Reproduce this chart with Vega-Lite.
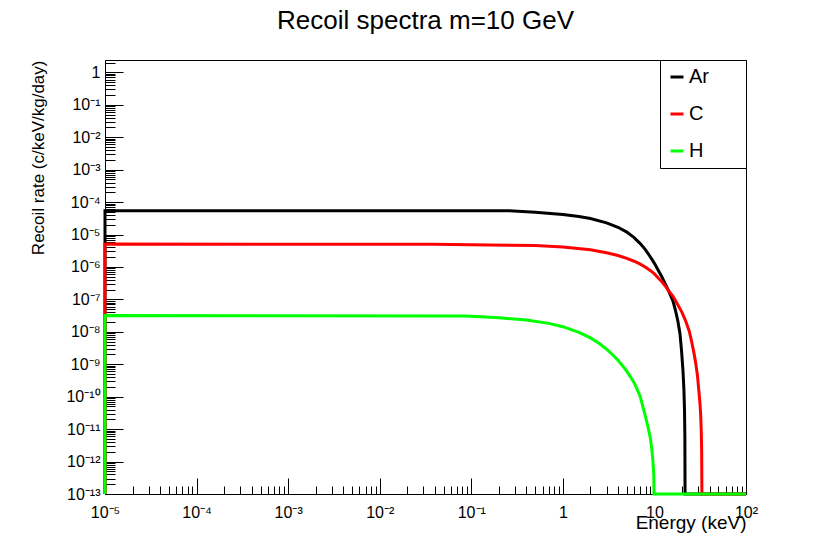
{
  "$schema": "https://vega.github.io/schema/vega-lite/v6.json",
  "width": 641,
  "height": 434,
  "autosize": "none",
  "padding": {"left": 105, "top": 60, "right": 94, "bottom": 50},
  "background": "white",
  "title": {
    "text": "Recoil spectra m=10 GeV",
    "font": "Liberation Sans",
    "fontSize": 26,
    "fontWeight": "normal",
    "color": "black",
    "anchor": "middle",
    "frame": "group",
    "baseline": "alphabetic",
    "offset": 0
  },
  "config": {
    "view": {"stroke": "black", "strokeWidth": 1},
    "axis": {
      "domainColor": "black",
      "tickColor": "black",
      "labelColor": "black",
      "titleColor": "black",
      "labelFont": "Liberation Sans",
      "titleFont": "Liberation Sans",
      "titleFontWeight": "normal",
      "grid": false,
      "labelOverlap": false,
      "labelBound": false,
      "labelFlush": false
    }
  },
  "data": {
    "values": [
      {"el": "Ar", "i": 1, "x": 1e-5, "y": 1e-13},
      {"el": "Ar", "i": 2, "x": 1e-5, "y": 5.43e-5},
      {"el": "Ar", "i": 3, "x": 0.26, "y": 5.43e-5},
      {"el": "Ar", "i": 4, "x": 0.5, "y": 4.84e-5},
      {"el": "Ar", "i": 5, "x": 1, "y": 4.12e-5},
      {"el": "Ar", "i": 6, "x": 1.5, "y": 3.59e-5},
      {"el": "Ar", "i": 7, "x": 2, "y": 3.11e-5},
      {"el": "Ar", "i": 8, "x": 3, "y": 2.29e-5},
      {"el": "Ar", "i": 9, "x": 4, "y": 1.67e-5},
      {"el": "Ar", "i": 10, "x": 5, "y": 1.19e-5},
      {"el": "Ar", "i": 11, "x": 6, "y": 8.04e-6},
      {"el": "Ar", "i": 12, "x": 7, "y": 5.25e-6},
      {"el": "Ar", "i": 13, "x": 8, "y": 3.37e-6},
      {"el": "Ar", "i": 14, "x": 9, "y": 2.06e-6},
      {"el": "Ar", "i": 15, "x": 10, "y": 1.29e-6},
      {"el": "Ar", "i": 16, "x": 11, "y": 7.9e-7},
      {"el": "Ar", "i": 17, "x": 12, "y": 5.1e-7},
      {"el": "Ar", "i": 18, "x": 13, "y": 3.16e-7},
      {"el": "Ar", "i": 19, "x": 14, "y": 2.06e-7},
      {"el": "Ar", "i": 20, "x": 15, "y": 1.33e-7},
      {"el": "Ar", "i": 21, "x": 16, "y": 8.6e-8},
      {"el": "Ar", "i": 22, "x": 17, "y": 4.47e-8},
      {"el": "Ar", "i": 23, "x": 18, "y": 2.19e-8},
      {"el": "Ar", "i": 24, "x": 19, "y": 8.9e-9},
      {"el": "Ar", "i": 25, "x": 19.8, "y": 2.5e-9},
      {"el": "Ar", "i": 26, "x": 20.5, "y": 6.3e-10},
      {"el": "Ar", "i": 27, "x": 21, "y": 1.6e-10},
      {"el": "Ar", "i": 28, "x": 21.3, "y": 4e-11},
      {"el": "Ar", "i": 29, "x": 21.5, "y": 6.3e-12},
      {"el": "Ar", "i": 30, "x": 21.6, "y": 1e-13},
      {"el": "Ar", "i": 31, "x": 100, "y": 1e-13},
      {"el": "C", "i": 1, "x": 1e-5, "y": 1e-13},
      {"el": "C", "i": 2, "x": 1e-5, "y": 5.06e-6},
      {"el": "C", "i": 3, "x": 0.037, "y": 5.0e-6},
      {"el": "C", "i": 4, "x": 0.5, "y": 4.57e-6},
      {"el": "C", "i": 5, "x": 1, "y": 4.13e-6},
      {"el": "C", "i": 6, "x": 2, "y": 3.37e-6},
      {"el": "C", "i": 7, "x": 3, "y": 2.75e-6},
      {"el": "C", "i": 8, "x": 4, "y": 2.25e-6},
      {"el": "C", "i": 9, "x": 5, "y": 1.84e-6},
      {"el": "C", "i": 10, "x": 6, "y": 1.5e-6},
      {"el": "C", "i": 11, "x": 7, "y": 1.22e-6},
      {"el": "C", "i": 12, "x": 8, "y": 9.8e-7},
      {"el": "C", "i": 13, "x": 9, "y": 7.8e-7},
      {"el": "C", "i": 14, "x": 10, "y": 6.1e-7},
      {"el": "C", "i": 15, "x": 11, "y": 4.56e-7},
      {"el": "C", "i": 16, "x": 12, "y": 3.56e-7},
      {"el": "C", "i": 17, "x": 13, "y": 2.69e-7},
      {"el": "C", "i": 18, "x": 14, "y": 2.01e-7},
      {"el": "C", "i": 19, "x": 16, "y": 1.22e-7},
      {"el": "C", "i": 20, "x": 18, "y": 6.8e-8},
      {"el": "C", "i": 21, "x": 20, "y": 4.0e-8},
      {"el": "C", "i": 22, "x": 22, "y": 2.12e-8},
      {"el": "C", "i": 23, "x": 24, "y": 1.05e-8},
      {"el": "C", "i": 24, "x": 25.5, "y": 5.0e-9},
      {"el": "C", "i": 25, "x": 27, "y": 2.24e-9},
      {"el": "C", "i": 26, "x": 28.2, "y": 1.12e-9},
      {"el": "C", "i": 27, "x": 29.5, "y": 4.5e-10},
      {"el": "C", "i": 28, "x": 30.4, "y": 1.78e-10},
      {"el": "C", "i": 29, "x": 31.3, "y": 7.1e-11},
      {"el": "C", "i": 30, "x": 32, "y": 2.8e-11},
      {"el": "C", "i": 31, "x": 32.5, "y": 7.9e-12},
      {"el": "C", "i": 32, "x": 32.8, "y": 2.0e-12},
      {"el": "C", "i": 33, "x": 33.0, "y": 1e-13},
      {"el": "C", "i": 34, "x": 100, "y": 1e-13},
      {"el": "H", "i": 1, "x": 1e-5, "y": 1e-13},
      {"el": "H", "i": 2, "x": 1e-5, "y": 3.18e-8},
      {"el": "H", "i": 3, "x": 0.087, "y": 3.09e-8},
      {"el": "H", "i": 4, "x": 0.2, "y": 2.72e-8},
      {"el": "H", "i": 5, "x": 0.4, "y": 2.32e-8},
      {"el": "H", "i": 6, "x": 0.7, "y": 1.82e-8},
      {"el": "H", "i": 7, "x": 1.0, "y": 1.44e-8},
      {"el": "H", "i": 8, "x": 1.5, "y": 9.66e-9},
      {"el": "H", "i": 9, "x": 2.0, "y": 6.5e-9},
      {"el": "H", "i": 10, "x": 2.5, "y": 4.37e-9},
      {"el": "H", "i": 11, "x": 3.0, "y": 2.94e-9},
      {"el": "H", "i": 12, "x": 3.5, "y": 1.97e-9},
      {"el": "H", "i": 13, "x": 4.0, "y": 1.33e-9},
      {"el": "H", "i": 14, "x": 4.5, "y": 8.9e-10},
      {"el": "H", "i": 15, "x": 5.0, "y": 6.0e-10},
      {"el": "H", "i": 16, "x": 5.5, "y": 4.03e-10},
      {"el": "H", "i": 17, "x": 6.0, "y": 2.71e-10},
      {"el": "H", "i": 18, "x": 6.5, "y": 1.66e-10},
      {"el": "H", "i": 19, "x": 7.0, "y": 1.0e-10},
      {"el": "H", "i": 20, "x": 7.5, "y": 4.8e-11},
      {"el": "H", "i": 21, "x": 8.0, "y": 2.4e-11},
      {"el": "H", "i": 22, "x": 8.5, "y": 1.17e-11},
      {"el": "H", "i": 23, "x": 9.0, "y": 5.5e-12},
      {"el": "H", "i": 24, "x": 9.35, "y": 2.5e-12},
      {"el": "H", "i": 25, "x": 9.6, "y": 1.12e-12},
      {"el": "H", "i": 26, "x": 9.84, "y": 4.0e-13},
      {"el": "H", "i": 27, "x": 9.9, "y": 1e-13},
      {"el": "H", "i": 28, "x": 100, "y": 1e-13}
    ]
  },
  "mark": {"type": "line", "strokeWidth": 3, "clip": false},
  "encoding": {
    "x": {
      "field": "x",
      "type": "quantitative",
      "scale": {"type": "log", "domain": [1e-5, 100], "nice": false},
      "axis": {
        "title": "Energy (keV)",
        "titleFontSize": 19,
        "titleAnchor": "end",
        "titleAlign": "right",
        "titleBaseline": "alphabetic",
        "titleX": 641,
        "titleY": 34,
        "labelFontSize": 16,
        "labelPadding": 26,
        "tickSize": {"condition": {"test": "abs(log(datum.value)/LN10 - round(log(datum.value)/LN10)) < 0.01", "value": -16}, "value": -8},
        "values": [1e-5,2e-5,3e-5,4e-5,5e-5,6e-5,7e-5,8e-5,9e-5,1e-4,2e-4,3e-4,4e-4,5e-4,6e-4,7e-4,8e-4,9e-4,1e-3,2e-3,3e-3,4e-3,5e-3,6e-3,7e-3,8e-3,9e-3,1e-2,2e-2,3e-2,4e-2,5e-2,6e-2,7e-2,8e-2,9e-2,0.1,0.2,0.3,0.4,0.5,0.6,0.7,0.8,0.9,1,2,3,4,5,6,7,8,9,10,20,30,40,50,60,70,80,90,100],
        "labelExpr": "abs(log(datum.value)/LN10 - round(log(datum.value)/LN10)) > 0.01 ? '' : ['10⁻¹³','10⁻¹²','10⁻¹¹','10⁻¹⁰','10⁻⁹','10⁻⁸','10⁻⁷','10⁻⁶','10⁻⁵','10⁻⁴','10⁻³','10⁻²','10⁻¹','1','10','10²'][round(log(datum.value)/LN10)+13]"
      }
    },
    "y": {
      "field": "y",
      "type": "quantitative",
      "scale": {"type": "log", "domain": [1e-13, 2.4], "nice": false},
      "axis": {
        "title": "Recoil rate (c/keV/kg/day)",
        "titleFontSize": 17,
        "titleAngle": -90,
        "titleAlign": "right",
        "titleBaseline": "alphabetic",
        "titleX": -62,
        "titleY": 0,
        "labelFontSize": 16,
        "labelPadding": 23,
        "tickSize": {"condition": {"test": "abs(log(datum.value)/LN10 - round(log(datum.value)/LN10)) < 0.01", "value": -18}, "value": -10},
        "values": [1e-13,2e-13,3e-13,4e-13,5e-13,6e-13,7e-13,8e-13,9e-13,1e-12,2e-12,3e-12,4e-12,5e-12,6e-12,7e-12,8e-12,9e-12,1e-11,2e-11,3e-11,4e-11,5e-11,6e-11,7e-11,8e-11,9e-11,1e-10,2e-10,3e-10,4e-10,5e-10,6e-10,7e-10,8e-10,9e-10,1e-9,2e-9,3e-9,4e-9,5e-9,6e-9,7e-9,8e-9,9e-9,1e-8,2e-8,3e-8,4e-8,5e-8,6e-8,7e-8,8e-8,9e-8,1e-7,2e-7,3e-7,4e-7,5e-7,6e-7,7e-7,8e-7,9e-7,1e-6,2e-6,3e-6,4e-6,5e-6,6e-6,7e-6,8e-6,9e-6,1e-5,2e-5,3e-5,4e-5,5e-5,6e-5,7e-5,8e-5,9e-5,1e-4,2e-4,3e-4,4e-4,5e-4,6e-4,7e-4,8e-4,9e-4,1e-3,2e-3,3e-3,4e-3,5e-3,6e-3,7e-3,8e-3,9e-3,1e-2,2e-2,3e-2,4e-2,5e-2,6e-2,7e-2,8e-2,9e-2,0.1,0.2,0.3,0.4,0.5,0.6,0.7,0.8,0.9,1,2],
        "labelExpr": "abs(log(datum.value)/LN10 - round(log(datum.value)/LN10)) > 0.01 ? '' : ['10⁻¹³','10⁻¹²','10⁻¹¹','10⁻¹⁰','10⁻⁹','10⁻⁸','10⁻⁷','10⁻⁶','10⁻⁵','10⁻⁴','10⁻³','10⁻²','10⁻¹','1','10','10²'][round(log(datum.value)/LN10)+13]"
      }
    },
    "color": {
      "field": "el",
      "type": "nominal",
      "scale": {"domain": ["Ar", "C", "H"], "range": ["#000000", "#ff0000", "#00ff00"]},
      "legend": {
        "title": null,
        "orient": "top-right",
        "offset": 0,
        "strokeColor": "black",
        "fillColor": "white",
        "padding": 7,
        "symbolType": "stroke",
        "symbolStrokeWidth": 3,
        "symbolSize": 169,
        "labelFont": "Liberation Sans",
        "labelFontSize": 20,
        "labelColor": "black",
        "labelOffset": 2,
        "rowPadding": 17,
        "labelExpr": "datum.label + '\u2800\u2800'"
      }
    },
    "order": {"field": "i", "type": "quantitative"}
  }
}
